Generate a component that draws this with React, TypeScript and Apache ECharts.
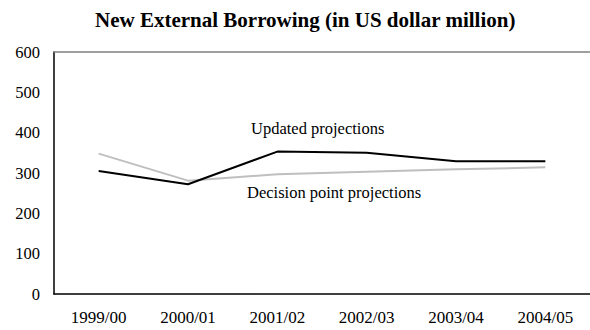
import React, { useEffect, useRef } from "react";
import * as echarts from "echarts";

const categories = ["1999/00", "2000/01", "2001/02", "2002/03", "2003/04", "2004/05"];
const updatedProjections = [305, 272, 353, 350, 329, 329];
const decisionPointProjections = [348, 281, 297, 303, 309, 314];
const yTicks = { min: 0, max: 600, interval: 100 };

const FONT = "Liberation Serif";

export default function App() {
  const ref = useRef<HTMLDivElement>(null);
  useEffect(() => {
    if (!ref.current) return;
    const chart = echarts.init(ref.current, undefined, { renderer: "svg" });
    chart.setOption({
      animation: false,
      backgroundColor: "#ffffff",
      textStyle: { fontFamily: FONT },
      title: {
        text: "New External Borrowing (in US dollar million)",
        left: 90,
        top: 4,
        textStyle: { fontFamily: FONT, fontSize: 21, fontWeight: "bold", color: "#000" },
      },
      grid: { left: 54, right: -2, top: 52, bottom: 36 },
      xAxis: [
        {
          type: "category",
          data: categories,
          boundaryGap: true,
          axisLine: { lineStyle: { color: "#000", width: 1.5 } },
          axisTick: { inside: true, length: 5, lineStyle: { color: "#000" } },
          axisLabel: { fontFamily: FONT, fontSize: 17, color: "#000", margin: 15 },
        },
        {
          type: "category",
          data: categories,
          position: "top",
          axisLine: { lineStyle: { color: "#808080", width: 1.5 } },
          axisTick: { show: false },
          axisLabel: { show: false },
        },
      ],
      yAxis: {
        type: "value",
        min: yTicks.min,
        max: yTicks.max,
        interval: yTicks.interval,
        axisLine: { show: true, lineStyle: { color: "#000", width: 1.5 } },
        axisTick: { show: false },
        splitLine: { show: false },
        axisLabel: { fontFamily: FONT, fontSize: 16.5, color: "#000", margin: 14 },
      },
      series: [
        {
          name: "Updated projections",
          type: "line",
          data: updatedProjections,
          symbol: "none",
          lineStyle: { color: "#000000", width: 2 },
          z: 3,
        },
        {
          name: "Decision point projections",
          type: "line",
          data: decisionPointProjections,
          symbol: "none",
          lineStyle: { color: "#bfbfbf", width: 2 },
          z: 2,
        },
      ],
      graphic: [
        {
          type: "text",
          left: 251,
          top: 120,
          style: { text: "Updated projections", fontFamily: FONT, fontSize: 16.5, fill: "#000" },
        },
        {
          type: "text",
          left: 247,
          top: 184,
          style: { text: "Decision point projections", fontFamily: FONT, fontSize: 16.5, fill: "#000" },
        },
      ],
    });
    return () => chart.dispose();
  }, []);
  return <div ref={ref} style={{ width: 590, height: 330, position: "fixed", left: 0, top: 0 }} />;
}
